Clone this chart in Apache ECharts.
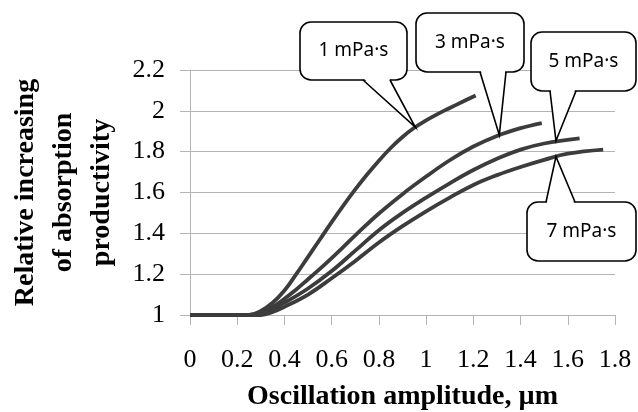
<!DOCTYPE html>
<html>
<head>
<meta charset="utf-8">
<script src="https://cdn.jsdelivr.net/npm/echarts@6/dist/echarts.min.js"></script>
<style>
html, body { margin: 0; padding: 0; background: #fff; }
#chart { width: 638px; height: 412px; }
</style>
</head>
<body>
<div id="chart"></div>
<script>
// curves, [amplitude, relative increase]
var visc1 = [[0, 1], [0.25, 1], [0.3, 1.02], [0.35, 1.06], [0.4, 1.12], [0.45, 1.2], [0.5, 1.285], [0.55, 1.37],
    [0.6, 1.455], [0.65, 1.537], [0.7, 1.615], [0.75, 1.688], [0.8, 1.756], [0.85, 1.818], [0.9, 1.872], [0.95, 1.917],
    [1.0, 1.953], [1.05, 1.985], [1.1, 2.014], [1.15, 2.042], [1.21, 2.075]];
var visc3 = [[0, 1], [0.25, 1], [0.3, 1.015], [0.35, 1.04], [0.4, 1.08], [0.45, 1.125], [0.5, 1.175], [0.55, 1.226],
    [0.6, 1.279], [0.65, 1.334], [0.7, 1.39], [0.8, 1.497], [0.9, 1.592], [1.0, 1.678], [1.1, 1.758], [1.2, 1.825],
    [1.3, 1.877], [1.4, 1.915], [1.49, 1.94]];
var visc5 = [[0, 1], [0.27, 1], [0.3, 1.01], [0.35, 1.03], [0.4, 1.06], [0.5, 1.13], [0.6, 1.215], [0.7, 1.315],
    [0.8, 1.415], [0.9, 1.5], [1.0, 1.575], [1.1, 1.645], [1.2, 1.71], [1.3, 1.765], [1.4, 1.81], [1.5, 1.84],
    [1.65, 1.865]];
var visc7 = [[0, 1], [0.3, 1], [0.35, 1.015], [0.4, 1.04], [0.5, 1.1], [0.6, 1.18], [0.7, 1.265], [0.8, 1.355],
    [0.9, 1.435], [1.0, 1.508], [1.1, 1.575], [1.2, 1.637], [1.3, 1.685], [1.4, 1.725], [1.5, 1.76], [1.6, 1.79],
    [1.75, 1.81]];
var seriesNames = ['1 mPa·s', '3 mPa·s', '5 mPa·s', '7 mPa·s'];
var xTicks = { min: 0, max: 1.8, step: 0.2 };
var yTicks = { min: 1, max: 2.2, step: 0.2 };
// callout anchors on the curves
var calloutTips = [[0.954, 1.92], [1.31, 1.882], [1.55, 1.853], [1.55, 1.776]];

var chart = echarts.init(document.getElementById('chart'));
var lineColor = '#3c3c3c';
var gridColor = '#b4b4b4';
var serif = '"Liberation Serif", "Times New Roman", serif';

var option = {
    animation: false,
    grid: { left: 190, right: 23, top: 70, bottom: 97, containLabel: false, outerBoundsMode: 'none' },
    xAxis: {
        type: 'value',
        min: xTicks.min, max: xTicks.max, interval: xTicks.step,
        name: 'Oscillation amplitude, µm',
        nameLocation: 'middle',
        nameGap: 68,
        nameTextStyle: { fontFamily: serif, fontWeight: 'bold', fontSize: 28, color: '#000' },
        axisLine: { show: true, lineStyle: { color: gridColor, width: 1 } },
        axisTick: { show: true, inside: false, length: 10, lineStyle: { color: gridColor } },
        axisLabel: {
            margin: 32, fontFamily: serif, fontSize: 26, color: '#000',
            formatter: function (v) { return String(Math.round(v * 10) / 10); }
        },
        splitLine: { show: false }
    },
    yAxis: {
        type: 'value',
        min: yTicks.min, max: yTicks.max, interval: yTicks.step,
        name: 'Relative increasing\nof absorption\nproductivity',
        nameLocation: 'middle',
        nameGap: 69,
        nameTextStyle: { fontFamily: serif, fontWeight: 'bold', fontSize: 28, color: '#000', lineHeight: 38, align: 'center' },
        axisLine: { show: true, lineStyle: { color: gridColor, width: 1 } },
        axisTick: { show: true, inside: false, length: 10, lineStyle: { color: gridColor } },
        axisLabel: {
            margin: 25, fontFamily: serif, fontSize: 26, color: '#000',
            formatter: function (v) { return String(Math.round(v * 10) / 10); }
        },
        splitLine: { show: true, lineStyle: { color: gridColor, width: 1 } }
    },
    series: [visc1, visc3, visc5, visc7].map(function (d, i) {
        return {
            name: seriesNames[i],
            type: 'line',
            data: d,
            smooth: 0.4,
            showSymbol: false,
            lineStyle: { color: lineColor, width: 3.8 },
            z: 3
        };
    })
};
chart.setOption(option);

// callout boxes: box in pixels, pointer base along box edge, tip on the curve
var boxes = [
    { x: 300, y: 22, w: 107, h: 58, base: [363, 390], side: 'bottom' },
    { x: 416, y: 13, w: 108, h: 59, base: [480, 506], side: 'bottom' },
    { x: 531, y: 32, w: 105, h: 59, base: [550, 576], side: 'bottom' },
    { x: 527, y: 202, w: 109, h: 59, base: [546, 575], side: 'top' }
];
var elements = [];
boxes.forEach(function (b, i) {
    var tip = chart.convertToPixel({ gridIndex: 0 }, calloutTips[i]);
    var by = b.side === 'bottom' ? b.y + b.h : b.y;
    var inset = b.side === 'bottom' ? -1.5 : 1.5;
    elements.push({
        type: 'rect', z: 10,
        shape: { x: b.x, y: b.y, width: b.w, height: b.h, r: 11 },
        style: { fill: '#fff', stroke: '#000', lineWidth: 1.6 }
    });
    elements.push({
        type: 'polygon', z: 11,
        shape: { points: [[b.base[0] + 0.8, by + inset], [b.base[1] - 0.8, by + inset], tip] },
        style: { fill: '#fff', stroke: null }
    });
    elements.push({
        type: 'polyline', z: 12,
        shape: { points: [[b.base[0], by], tip, [b.base[1], by]] },
        style: { stroke: '#000', lineWidth: 1.6, fill: null }
    });
    elements.push({
        type: 'text', z: 13,
        x: b.x + b.w / 2, y: b.y + b.h / 2,
        style: {
            text: seriesNames[i], fill: '#000',
            font: '19px "Noto Sans", sans-serif',
            align: 'center', verticalAlign: 'middle'
        }
    });
});
chart.setOption({ graphic: { elements: elements } });
</script>
</body>
</html>
